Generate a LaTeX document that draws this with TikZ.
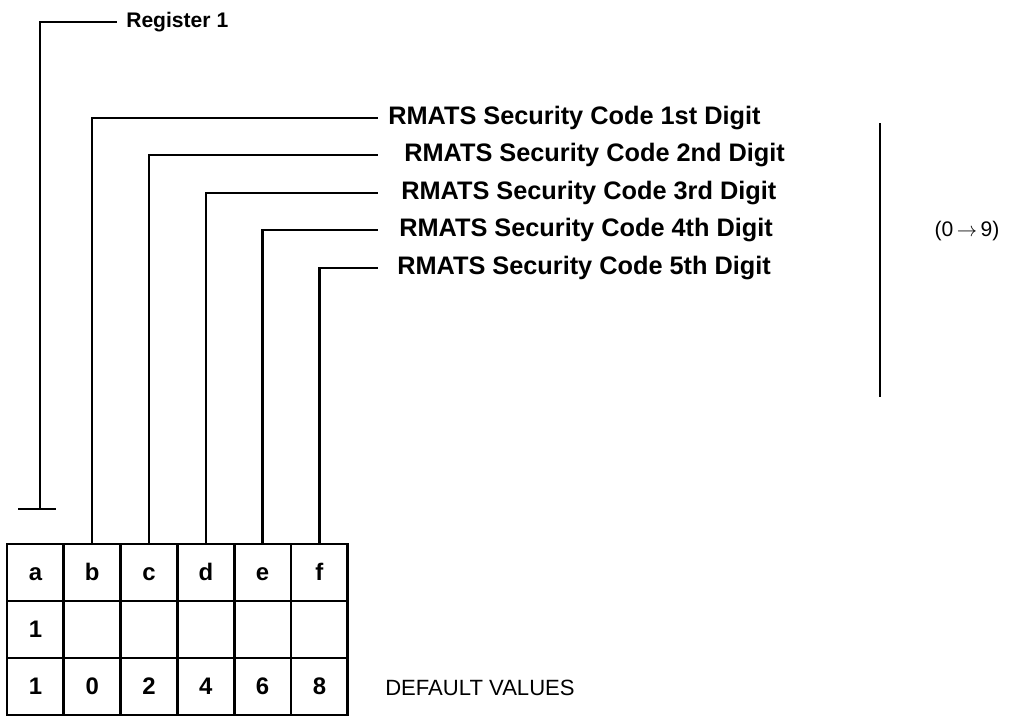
\documentclass[tikz,border=0pt]{standalone}
\usepackage{fontspec}
\setmainfont{Liberation Sans}
\usetikzlibrary{positioning}

\begin{document}
\begin{tikzpicture}[x=0.025cm,y=-0.025cm,
  cell/.style={draw,line width=2pt,outer sep=0pt,minimum width=56.8*0.025cm,minimum height=57*0.025cm,inner sep=0pt,text height=12pt,text depth=0pt,font=\fontsize{17}{20}\selectfont\bfseries},
  lbl/.style={anchor=west,inner sep=0pt,font=\fontsize{18}{21}\selectfont\bfseries},
  wire/.style={line width=1.6pt}]
\useasboundingbox (0,0) rectangle (1024,717);
% register table
\node[cell] (a1) at (35.4,572.5) {a};
\node[cell,right=0pt of a1] (b1) {b};
\node[cell,right=0pt of b1] (c1) {c};
\node[cell,right=0pt of c1] (d1) {d};
\node[cell,right=0pt of d1] (e1) {e};
\node[cell,right=0pt of e1] (f1) {f};
\node[cell,below=0pt of a1] (a2) {1};
\node[cell,right=0pt of a2] (b2) {};
\node[cell,right=0pt of b2] (c2) {};
\node[cell,right=0pt of c2] (d2) {};
\node[cell,right=0pt of d2] (e2) {};
\node[cell,right=0pt of e2] (f2) {};
\node[cell,below=0pt of a2] (a3) {1};
\node[cell,right=0pt of a3] (b3) {0};
\node[cell,right=0pt of b3] (c3) {2};
\node[cell,right=0pt of c3] (d3) {4};
\node[cell,right=0pt of d3] (e3) {6};
\node[cell,right=0pt of e3] (f3) {8};
% labels
\node[lbl,font=\fontsize{15}{18}\selectfont\bfseries] (reg) at (126,22) {Register 1};
\node[lbl] (s1) at (388,118) {RMATS Security Code 1st Digit};
\node[lbl] (s2) at (404,155) {RMATS Security Code 2nd Digit};
\node[lbl] (s3) at (401,193) {RMATS Security Code 3rd Digit};
\node[lbl] (s4) at (399,230) {RMATS Security Code 4th Digit};
\node[lbl] (s5) at (397,268) {RMATS Security Code 5th Digit};
\node[anchor=west,inner sep=0pt,font=\fontsize{15.7}{18}\selectfont] (dv) at (385,688) {DEFAULT VALUES};
\node[font=\fontsize{15}{18}\selectfont] (rng) at (967,231) {(0\,$\rightarrow$\,9)};
% wire ends
\coordinate (r0) at (40,509);
\coordinate (r1) at (117,22);
\coordinate (k0) at (18,509);
\coordinate (k1) at (56,509);
\coordinate (t1) at (378,118);
\coordinate (t2) at (378,155);
\coordinate (t3) at (378,193);
\coordinate (t4) at (378,230);
\coordinate (t5) at (378,268);
\draw[wire] (r0) |- (r1);
\draw[wire] (k0) -- (k1);
\draw[wire] (b1.north) |- (t1);
\draw[wire] (c1.north) |- (t2);
\draw[wire] (d1.north) |- (t3);
\draw[wire] (e1.north) |- (t4);
\draw[wire] (f1.north) |- (t5);
\draw[line width=2pt] (880,123) -- (880,397);
\end{tikzpicture}
\end{document}
